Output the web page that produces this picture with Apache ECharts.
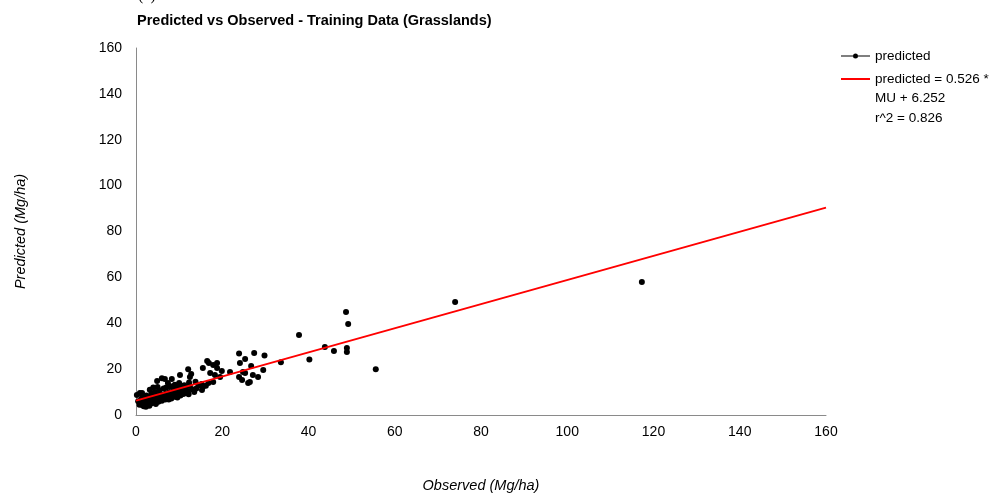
<!DOCTYPE html>
<html>
<head>
<meta charset="utf-8">
<script src="https://cdn.jsdelivr.net/npm/echarts@6/dist/echarts.min.js"></script>
<style>html,body{margin:0;padding:0;background:#fff}#c{width:1006px;height:494px}</style>
</head>
<body>
<div id="c"></div>
<script>
const titleText = 'Predicted vs Observed - Training Data (Grasslands)';
const xName = 'Observed (Mg/ha)';
const yName = 'Predicted (Mg/ha)';
const xTicks = [0, 20, 40, 60, 80, 100, 120, 140, 160];
const yTicks = [0, 20, 40, 60, 80, 100, 120, 140, 160];
const slope = 0.526;
const intercept = 6.252;
const fitRange = [0, 160];
const legendLines = ['predicted = 0.526 *', 'MU + 6.252', 'r^2 = 0.826'];

const predictedPoints = [
  [117.3,58.0],[74.0,49.3],[55.6,20.0],[48.7,44.9],[49.2,39.7],[48.9,29.2],[48.9,27.5],
  [45.9,27.9],[43.8,29.6],[40.2,24.2],[37.8,34.9],[33.6,23.0],
  [29.8,25.9],[27.4,27.0],[23.9,26.8],[25.3,24.4],[24.1,22.7],[26.7,21.4],[29.5,19.6],
  [21.8,18.7],[24.8,18.7],[27.1,17.4],[28.3,16.6],[23.9,16.6],[24.6,15.3],[26.0,14.0],
  [16.5,23.5],[16.9,22.7],[17.9,21.8],[18.8,22.7],[15.5,20.5],[18.8,20.5],[19.9,19.2],
  [17.2,18.3],[18.3,17.4],[17.9,14.4],[19.5,16.6],[10.2,17.4],[12.1,20.0],[12.8,17.9],
  [8.3,15.7],[6.7,15.7],[4.9,14.8],[6.0,16.0],[7.4,14.0],[15.3,10.9],[15.5,12.2],
  [10.7,10.9],[11.4,9.6],[0.9,9.6],[0.2,8.7],[1.4,9.6],[12.5,16.6],[25.3,18.3],[26.4,14.4],
  [1.0,5.0],[1.2,6.5],[1.5,4.3],[1.8,5.5],[2.0,7.0],[2.2,4.8],[2.5,6.0],[2.7,5.2],
  [3.0,4.5],[3.0,7.5],[3.3,6.2],[3.5,5.0],[3.8,8.0],[4.0,6.5],[4.2,5.5],[4.5,7.2],
  [4.8,6.0],[5.0,8.5],[5.2,5.8],[5.5,7.0],[5.8,9.0],[6.0,6.2],[6.2,7.8],[6.5,8.8],
  [6.8,6.8],[7.0,9.5],[7.2,7.5],[7.5,8.2],[7.8,10.0],[8.0,8.8],[8.2,7.2],[8.5,9.5],
  [8.8,11.0],[9.0,8.0],[9.3,10.2],[9.5,12.0],[9.8,9.0],[10.0,11.0],[10.3,8.5],[10.5,12.5],
  [10.8,10.0],[11.0,9.2],[11.5,11.5],[12.0,10.5],[12.5,12.8],[13.0,11.2],
  [0.5,6.0],[0.8,4.5],[1.6,8.0],[2.4,8.5],[3.6,9.5],[4.4,10.0],[5.4,10.8],[6.4,11.5],
  [7.0,12.0],[2.0,5.8],[2.9,6.8],[3.9,7.0],[4.9,7.8],[5.9,8.2],[6.9,9.0],[7.9,9.3],
  [1.3,7.2],[2.6,4.2],[3.4,5.6],[4.6,4.8],[5.6,6.5],[6.6,7.4],[7.6,6.8],[8.6,8.4],
  [9.6,7.6],[10.6,9.6],[11.6,10.0],[12.2,9.0],[13.5,10.0],[14.0,11.5],[14.5,13.0],
  [13.8,14.5],[15.2,13.5],[16.2,12.8],[16.8,14.0],[12.3,14.2],[11.2,13.0],[10.0,14.0],
  [9.0,13.2],[8.0,12.5],[3.2,11.0],[4.0,12.0],[5.0,12.2],[1.8,3.8],[2.3,3.6],[3.1,4.0]
];

const fitLine = fitRange.map(x => [x, slope * x + intercept]);

const FONT = '"Liberation Sans", Arial, sans-serif';
const dotLineIcon = 'path://M0,6.5H12V7.5H0Z M17,6.5H29V7.5H17Z M12,7A2.5,2.5 0 1 0 17,7A2.5,2.5 0 1 0 12,7Z';
const lineIcon = 'path://M0,0H29V2H0Z';
const chart = echarts.init(document.getElementById('c'), null, {renderer: 'canvas'});
chart.setOption({
  animation: false,
  backgroundColor: '#fff',
  title: {
    text: titleText, left: 132, top: 8,
    textStyle: {fontFamily: FONT, fontSize: 14.5, fontWeight: 'bold', color: '#000'}
  },
  grid: {left: 136, right: 180, top: 48, bottom: 79, containLabel: false, outerBoundsMode: 'none'},
  xAxis: {
    type: 'value', min: xTicks[0], max: xTicks[xTicks.length - 1], interval: 20,
    name: xName, nameLocation: 'middle', nameGap: 63,
    nameTextStyle: {fontFamily: FONT, fontSize: 14.5, fontStyle: 'italic', color: '#000'},
    axisLine: {show: true, lineStyle: {color: '#8a8a8a', width: 1}},
    axisTick: {show: false},
    splitLine: {show: false},
    axisLabel: {fontFamily: FONT, fontSize: 14, color: '#000', margin: 10}
  },
  yAxis: {
    type: 'value', min: yTicks[0], max: yTicks[yTicks.length - 1], interval: 20,
    name: yName, nameLocation: 'middle', nameGap: 108,
    nameTextStyle: {fontFamily: FONT, fontSize: 14.5, fontStyle: 'italic', color: '#000'},
    axisLine: {show: true, lineStyle: {color: '#8a8a8a', width: 1}},
    axisTick: {show: false},
    splitLine: {show: false},
    axisLabel: {fontFamily: FONT, fontSize: 14, color: '#000', margin: 14}
  },
  legend: {
    orient: 'vertical', left: 836, top: 44,
    itemWidth: 29, itemHeight: 14, itemGap: 9,
    textStyle: {fontFamily: FONT, fontSize: 13.5, color: '#000'},
    data: [
      {name: 'predicted', icon: dotLineIcon, itemStyle: {color: '#000', opacity: 1}},
      {name: legendLines[0], icon: lineIcon, itemStyle: {color: '#ff0000', opacity: 1}}
    ]
  },
  graphic: [
    {type: 'text', left: 138, top: -12, style: {text: '(a)', font: '16px "Liberation Serif", serif', fill: '#000'}},
    {type: 'text', left: 875, top: 89, style: {text: legendLines[1] + '\n' + legendLines[2], font: '13.5px ' + FONT, fill: '#000', lineHeight: 19.5}}
  ],
  series: [
    {
      name: 'predicted', type: 'scatter', data: predictedPoints,
      symbol: 'circle', symbolSize: 6,
      itemStyle: {color: '#000', opacity: 1},
      emphasis: {disabled: true}, z: 3
    },
    {
      name: legendLines[0], type: 'line', data: fitLine,
      symbol: 'none', lineStyle: {color: '#ff0000', width: 2},
      itemStyle: {color: '#ff0000'},
      emphasis: {disabled: true}, z: 4
    }
  ]
});
</script>
</body>
</html>
